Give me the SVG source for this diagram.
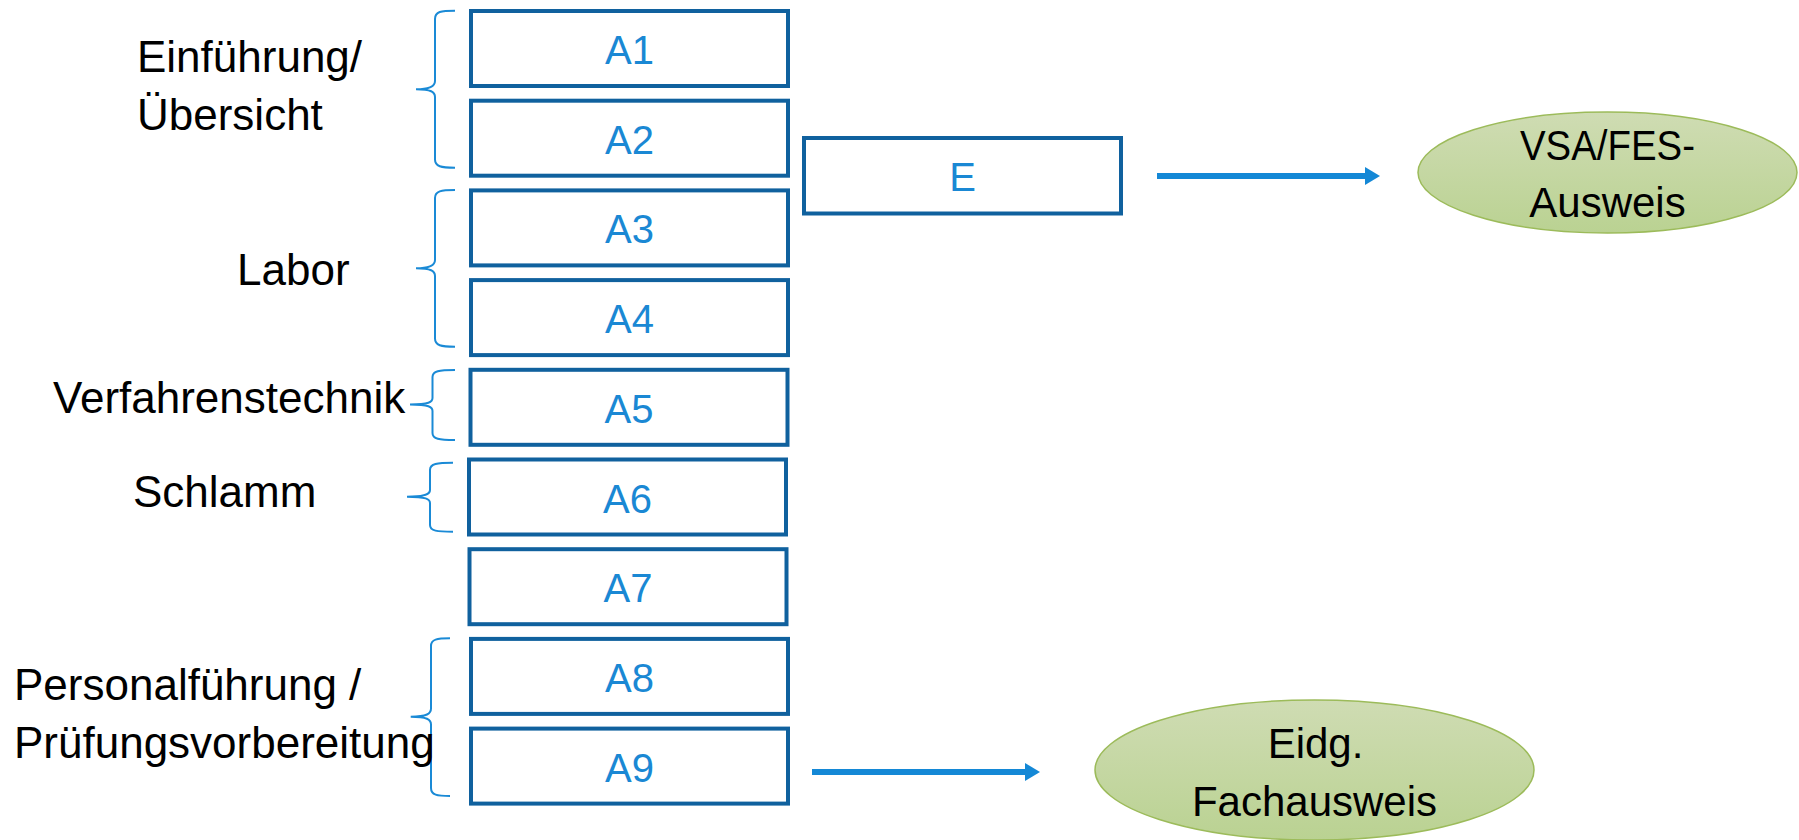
<svg xmlns="http://www.w3.org/2000/svg" width="1799" height="840" viewBox="0 0 1799 840">
<style>
.box{fill:#ffffff;stroke:#10619e;stroke-width:4}
.lbl{font-family:"Liberation Sans",Arial,sans-serif;font-size:40px;fill:#1a88d4;text-anchor:middle}
.cat{font-family:"Liberation Sans",Arial,sans-serif;font-size:44px;fill:#000000}
.brace{fill:none;stroke:#1a8ad6;stroke-width:2}
.ell{fill:url(#g);stroke:#9cbb5a;stroke-width:1.5}
.etxt{font-family:"Liberation Sans",Arial,sans-serif;font-size:42px;fill:#000000;text-anchor:middle}
.conn{stroke:#1488d6;stroke-width:6;fill:none}
</style>
<defs>
<linearGradient id="g" x1="0" y1="0" x2="0" y2="1">
<stop offset="0" stop-color="#cfdcb3"/>
<stop offset="1" stop-color="#bad292"/>
</linearGradient>
<marker id="ah" markerUnits="userSpaceOnUse" markerWidth="15" markerHeight="18" viewBox="0 0 15 18" refX="0" refY="9" orient="auto">
<path d="M0,0 L15,9 L0,18 z" fill="#1488d6"/>
</marker>
</defs>
<rect width="1799" height="840" fill="#ffffff"/>

<g id="braces">
<g id="cat-einfuehrung">
<path class="brace" d="M455,10.7 C441,10.7 435,11.5 435,19 L435,81 C435,86 431,89.3 416,89.3 C431,89.3 435,92 435,97 L435,159.5 C435,166.5 441,167.7 455,167.7"/>
<text class="cat" x="137" y="72">Einführung/</text>
<text class="cat" x="137" y="129.5">Übersicht</text>
</g>
<g id="cat-labor">
<path class="brace" d="M455,190 C441,190 435,191 435,198 L435,260 C435,265 431,268.3 416,268.3 C431,268.3 435,271 435,276 L435,338.5 C435,345.5 441,346.7 455,346.7"/>
<text class="cat" x="237" y="285">Labor</text>
</g>
<g id="cat-verfahren">
<path class="brace" d="M455,370 C439,370 432.5,371 432.5,377 L432.5,398 C432.5,402 429,404.5 410,404.5 C429,404.5 432.5,407 432.5,411 L432.5,433 C432.5,439 439,440 455,440"/>
<text class="cat" x="53" y="413">Verfahrenstechnik</text>
</g>
<g id="cat-schlamm">
<path class="brace" d="M453,462.7 C437,462.7 430,463.7 430,470 L430,490 C430,494 426,496.7 407,496.7 C426,496.7 430,499 430,503 L430,525 C430,531 437,531.7 453,531.7"/>
<text class="cat" x="133" y="507">Schlamm</text>
</g>
<g id="cat-personal">
<path class="brace" d="M450,638.3 C437,638.3 431,639.3 431,646 L431,708.5 C431,713.5 427,716.7 410.7,716.7 C427,716.7 431,719.5 431,724.5 L431,788 C431,795 437,796 450,796"/>
<text class="cat" x="14" y="700">Personalführung /</text>
<text class="cat" x="14" y="758">Prüfungsvorbereitung</text>
</g>
</g>

<g id="A1"><rect class="box" x="471" y="11" width="317" height="75"/><text class="lbl" x="629.5" y="64">A1</text></g>
<g id="A2"><rect class="box" x="471" y="100.7" width="317" height="75"/><text class="lbl" x="629.5" y="153.7">A2</text></g>
<g id="A3"><rect class="box" x="471" y="190.4" width="317" height="75"/><text class="lbl" x="629.5" y="243.4">A3</text></g>
<g id="A4"><rect class="box" x="471" y="280.1" width="317" height="75"/><text class="lbl" x="629.5" y="333.1">A4</text></g>
<g id="A5"><rect class="box" x="470.5" y="369.8" width="317" height="75"/><text class="lbl" x="629" y="422.8">A5</text></g>
<g id="A6"><rect class="box" x="469" y="459.5" width="317" height="75"/><text class="lbl" x="627.5" y="512.5">A6</text></g>
<g id="A7"><rect class="box" x="469.5" y="549.2" width="317" height="75"/><text class="lbl" x="628" y="602.2">A7</text></g>
<g id="A8"><rect class="box" x="471" y="638.9" width="317" height="75"/><text class="lbl" x="629.5" y="691.9">A8</text></g>
<g id="A9"><rect class="box" x="471" y="728.6" width="317" height="75"/><text class="lbl" x="629.5" y="781.6">A9</text></g>

<g id="E"><rect class="box" x="804" y="138" width="317" height="75.5"/><text class="lbl" x="962.5" y="191">E</text></g>

<g id="VSA"><ellipse class="ell" cx="1607.5" cy="172.5" rx="189.5" ry="60.5"/>
<text class="etxt" x="1607.5" y="160" textLength="175" lengthAdjust="spacingAndGlyphs">VSA/FES-</text>
<text class="etxt" x="1607.5" y="216.5">Ausweis</text></g>

<g id="Fach"><ellipse class="ell" cx="1314.5" cy="770" rx="219.5" ry="70"/>
<text class="etxt" x="1315.5" y="758">Eidg.</text>
<text class="etxt" x="1314.5" y="816">Fachausweis</text></g>

<g id="connectors">
<line class="conn" x1="1157" y1="176" x2="1365" y2="176" marker-end="url(#ah)"/>
<line class="conn" x1="812" y1="772" x2="1025" y2="772" marker-end="url(#ah)"/>
</g>
</svg>
